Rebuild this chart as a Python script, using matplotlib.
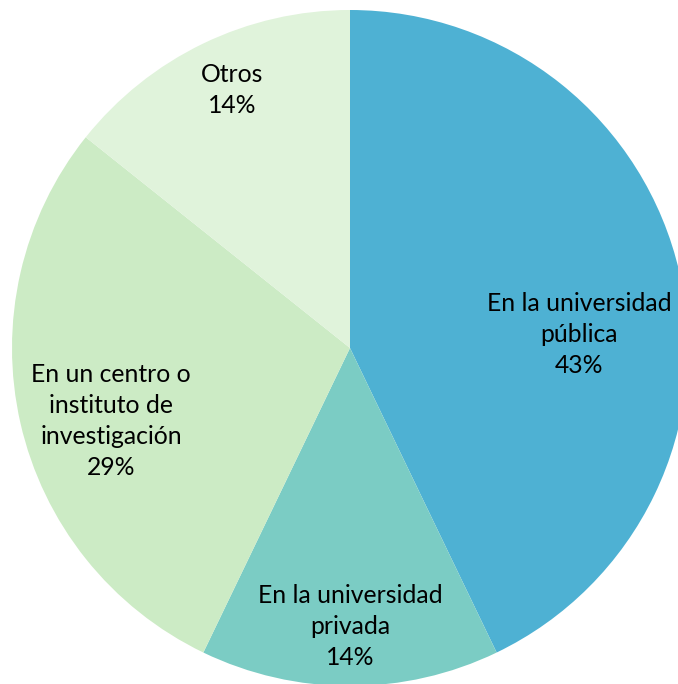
import matplotlib
matplotlib.use('Agg')
import matplotlib.pyplot as plt

# data
categorias = ['En la universidad\npública', 'En la universidad\nprivada',
              'En un centro o\ninstituto de\ninvestigación', 'Otros']
valores = [3, 1, 2, 1]
colores = ['#4EB1D3', '#7BCCC4', '#CCEBC5', '#E0F3DB']

# label positions (data units, pie radius = 1)
pos_etiquetas = [(0.678, 0.04), (0.0, -0.825), (-0.707, -0.216), (-0.349, 0.763)]

plt.rcParams['font.family'] = ['Lato', 'DejaVu Sans']

fig = plt.figure(figsize=(6.78, 6.84), dpi=100)
ax = fig.add_axes([0, 0, 1, 1])

cx, cy, r = 350, 348, 338
ax.pie(valores, colors=colores, startangle=90, counterclock=False,
       radius=1, wedgeprops=dict(linewidth=0))

total = sum(valores)
for cat, v, (x, y) in zip(categorias, valores, pos_etiquetas):
    pct = round(100 * v / total)
    ax.text(x, y, f'{cat}\n{pct}%', ha='center', va='center',
            fontsize=17.8, color='#000000', linespacing=1.42)

ax.set_xlim(-cx / r, (678 - cx) / r)
ax.set_ylim((cy - 684) / r, cy / r)
ax.set_aspect('auto')
ax.axis('off')

fig.savefig('out.png', dpi=100)
